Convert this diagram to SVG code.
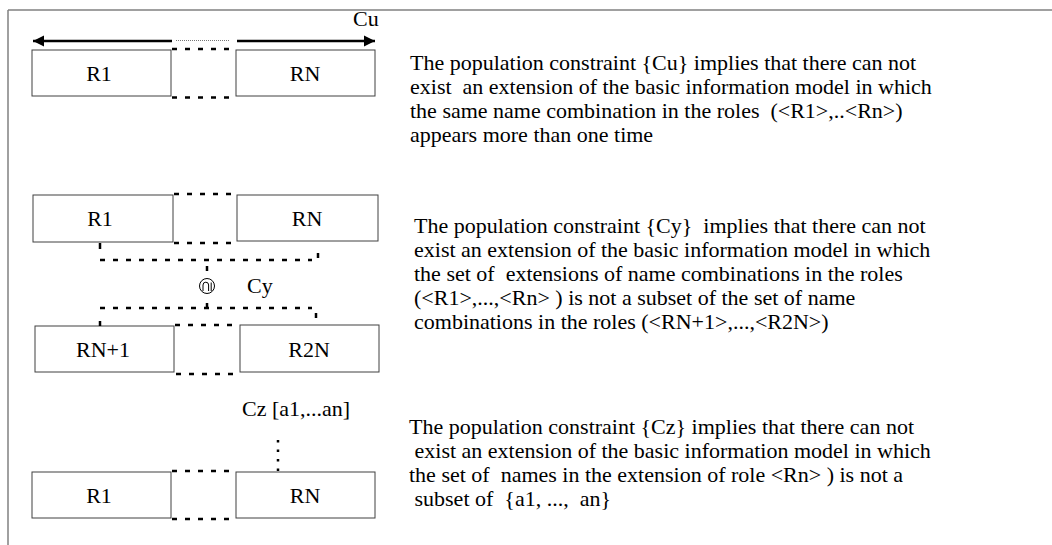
<svg xmlns="http://www.w3.org/2000/svg" width="1052" height="545" viewBox="0 0 1052 545">
<style>
.frame{stroke:#808080;stroke-width:1.5;fill:none}
.box{fill:#fff;stroke:#404040;stroke-width:1}
.lbl{font-family:"Liberation Serif","Times New Roman",serif;font-size:22px;fill:#000}
.body{font-family:"Liberation Serif","Times New Roman",serif;font-size:22px;fill:#000}
.dash{stroke:#000;stroke-width:2.5;fill:none;stroke-dasharray:5 8}
.tick{stroke:#000;stroke-width:2.5;fill:none}
.arrow{stroke:#000;stroke-width:2.5;fill:none}
</style>
<defs>
<marker id="ah" viewBox="0 0 10 10" refX="10" refY="5" markerWidth="4.5" markerHeight="4.5" orient="auto" markerUnits="strokeWidth">
<path d="M0,0 L10,5 L0,10 z" fill="#000"/>
</marker>
</defs>
<rect width="1052" height="545" fill="#fff"/>
<g id="frame">
<line class="frame" x1="8" y1="10" x2="1052" y2="10"/>
<line class="frame" x1="8" y1="10" x2="8" y2="545"/>
</g>

<!-- Block 1 -->
<g id="b1-R1"><rect class="box" x="32" y="50" width="139" height="46"/><text class="lbl" x="99" y="81" text-anchor="middle">R1</text></g>
<g id="b1-RN"><rect class="box" x="236" y="50" width="139" height="46"/><text class="lbl" x="305" y="81" text-anchor="middle">RN</text></g>
<g id="b1-Cu"><text class="lbl" x="353" y="26">Cu</text></g>
<g id="b1-connectors">
<line class="arrow" x1="172" y1="41" x2="33" y2="41" marker-end="url(#ah)"/>
<line class="arrow" x1="237" y1="41" x2="375" y2="41" marker-end="url(#ah)"/>
<line x1="176" y1="40.5" x2="230" y2="40.5" stroke="#777" stroke-width="1" stroke-dasharray="1 1"/>
<line class="dash" x1="172" y1="49" x2="232" y2="49"/>
<line class="dash" x1="172" y1="97.5" x2="232" y2="97.5"/>
</g>
<g id="b1-text" class="body">
<text x="410" y="70">The population constraint {Cu} implies that there can not</text>
<text x="410" y="94" xml:space="preserve">exist  an extension of the basic information model in which</text>
<text x="410" y="118" xml:space="preserve">the same name combination in the roles  (&lt;R1&gt;,..&lt;Rn&gt;)</text>
<text x="410" y="142">appears more than one time</text>
</g>

<!-- Block 2 -->
<g id="b2-R1"><rect class="box" x="33" y="195" width="140" height="47"/><text class="lbl" x="100" y="226" text-anchor="middle">R1</text></g>
<g id="b2-RN"><rect class="box" x="237" y="195" width="141" height="46"/><text class="lbl" x="307" y="226" text-anchor="middle">RN</text></g>
<g id="b2-RN1"><rect class="box" x="35" y="326" width="139" height="46"/><text class="lbl" x="103" y="357" text-anchor="middle">RN+1</text></g>
<g id="b2-R2N"><rect class="box" x="240" y="325" width="139" height="47"/><text class="lbl" x="309" y="357" text-anchor="middle">R2N</text></g>
<g id="b2-Cy">
<circle cx="207" cy="286" r="7.5" fill="#fff" stroke="#000" stroke-width="1"/>
<path d="M203,291 V285 A2.8,2.8 0 0 1 208.6,285 V291" fill="none" stroke="#000" stroke-width="1"/>
<line x1="211.2" y1="282.5" x2="211.2" y2="291" stroke="#000" stroke-width="1"/>
<text class="lbl" x="247" y="293">Cy</text>
</g>
<g id="b2-connectors">
<line class="dash" x1="174" y1="194" x2="232" y2="194"/>
<line class="dash" x1="174" y1="243" x2="232" y2="243"/>
<line class="tick" x1="100" y1="243" x2="100" y2="249"/>
<line class="dash" x1="100" y1="260" x2="312" y2="260"/>
<line class="tick" x1="318" y1="253" x2="318" y2="258"/>
<line class="tick" x1="207" y1="266" x2="207" y2="271"/>
<line class="dash" x1="100" y1="308" x2="312" y2="308"/>
<line class="tick" x1="207" y1="303" x2="207" y2="308"/>
<line class="tick" x1="316" y1="313" x2="316" y2="318"/>
<line class="tick" x1="100" y1="321" x2="100" y2="326"/>
<line class="dash" x1="175" y1="325" x2="235" y2="325"/>
<line class="dash" x1="176" y1="374" x2="234" y2="374"/>
</g>
<g id="b2-text" class="body">
<text x="414" y="233" xml:space="preserve">The population constraint {Cy}  implies that there can not</text>
<text x="414" y="257">exist an extension of the basic information model in which</text>
<text x="414" y="281" xml:space="preserve">the set of  extensions of name combinations in the roles</text>
<text x="414" y="305">(&lt;R1&gt;,...,&lt;Rn&gt; ) is not a subset of the set of name</text>
<text x="414" y="329">combinations in the roles (&lt;RN+1&gt;,...,&lt;R2N&gt;)</text>
</g>

<!-- Block 3 -->
<g id="b3-R1"><rect class="box" x="32" y="472" width="139" height="46"/><text class="lbl" x="99" y="503" text-anchor="middle">R1</text></g>
<g id="b3-RN"><rect class="box" x="236" y="472" width="139" height="46"/><text class="lbl" x="305" y="503" text-anchor="middle">RN</text></g>
<g id="b3-Cz"><text class="lbl" x="242" y="416">Cz [a1,...an]</text></g>
<g id="b3-connectors">
<line x1="278" y1="440" x2="278" y2="471" stroke="#000" stroke-width="2.5" stroke-dasharray="2.5 7"/>
<line class="dash" x1="172" y1="471" x2="232" y2="471"/>
<line class="dash" x1="172" y1="519" x2="232" y2="519"/>
</g>
<g id="b3-text" class="body">
<text x="409" y="434">The population constraint {Cz}  implies that there can not</text>
<text x="409" y="458" xml:space="preserve"> exist an extension of the basic information model in which</text>
<text x="409" y="482" xml:space="preserve">the set of  names in the extension of role &lt;Rn&gt; ) is not a</text>
<text x="409" y="506" xml:space="preserve"> subset of  {a1, ...,  an}</text>
</g>
</svg>
